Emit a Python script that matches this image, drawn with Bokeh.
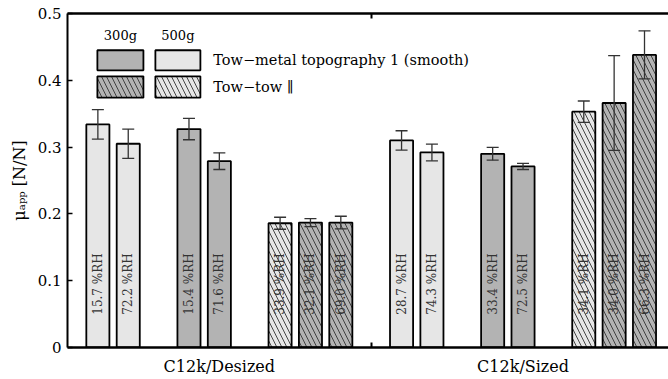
import math
from bokeh.plotting import figure
from bokeh.models import (Range1d, LinearAxis, FixedTicker, Whisker, TeeHead,
                          ColumnDataSource, Label)
from bokeh.core.properties import value
from bokeh.embed import file_html
from bokeh.resources import INLINE

# ---------------- data ----------------
groups = ["C12k/Desized", "C12k/Sized"]
bar_group = [0, 0, 0, 0, 0, 0, 0, 1, 1, 1, 1, 1, 1, 1]
# subgroup id: (metal 500g), (metal 300g), (tow-tow) per group
bar_subgroup = [0, 0, 1, 1, 2, 2, 2, 3, 3, 4, 4, 5, 5, 5]
bar_load = ["500g", "500g", "300g", "300g", "500g", "300g", "300g",
            "500g", "500g", "300g", "300g", "500g", "300g", "300g"]
bar_contact = ["metal", "metal", "metal", "metal", "tow", "tow", "tow",
               "metal", "metal", "metal", "metal", "tow", "tow", "tow"]
mu_app = [0.334, 0.305, 0.327, 0.279, 0.186, 0.187, 0.187,
          0.310, 0.292, 0.290, 0.271, 0.353, 0.366, 0.438]
mu_err = [0.022, 0.022, 0.016, 0.0125, 0.009, 0.006, 0.0095,
          0.0145, 0.0125, 0.0095, 0.0045, 0.016, 0.071, 0.036]
rh = ["15.7", "72.2", "15.4", "71.6", "33.9", "32.1", "69.0",
      "28.7", "74.3", "33.4", "72.5", "34.1", "34.0", "66.3"]
y_ticks = [0, 0.1, 0.2, 0.3, 0.4, 0.5]
y_title = "\u03bc\u2090\u209a\u209a [N/N]"
legend_loads = ["300g", "500g"]
legend_labels = ["Tow\u2212metal topography 1 (smooth)", "Tow\u2212tow \u2225"]

# ---------------- styles ----------------
FONT = "DejaVu Serif"
fill_for = {"300g": "#b3b3b3", "500g": "#e6e6e6"}
hatch_for = {"metal": " ", "tow": "\\"}

slots = [i + s for i, s in enumerate(bar_subgroup)]
group_centers = []
for g in range(len(groups)):
    xs = [slots[i] for i in range(len(slots)) if bar_group[i] == g]
    group_centers.append((min(xs) + max(xs)) / 2)
separators = [(max(slots[i] for i in range(len(slots)) if bar_group[i] == g) +
               min(slots[i] for i in range(len(slots)) if bar_group[i] == g + 1)) / 2
              for g in range(len(groups) - 1)]

src = ColumnDataSource(dict(
    x=slots, top=mu_app,
    upper=[m + e for m, e in zip(mu_app, mu_err)],
    lower=[m - e for m, e in zip(mu_app, mu_err)],
    fill=[fill_for[l] for l in bar_load],
    hatch=[hatch_for[c] for c in bar_contact],
    label=[r + " %RH" for r in rh],
))

p = figure(width=668, height=379, x_range=Range1d(-1, 18.79), y_range=Range1d(0, 0.5),
           output_backend="svg", toolbar_location=None,
           x_axis_type=None, y_axis_type=None,
           min_border_left=67, min_border_right=0, min_border_top=13, min_border_bottom=32)
p.outline_line_color = None
p.background_fill_color = "white"

# axes
yaxis = LinearAxis(ticker=FixedTicker(ticks=y_ticks, minor_ticks=[]),
                   major_label_overrides={0: "0"},
                   major_tick_in=5, major_tick_out=0, minor_tick_in=0, minor_tick_out=0,
                   axis_line_width=2, axis_line_color="black", major_tick_line_width=1.5,
                   major_label_text_font=FONT, major_label_text_font_size="15px",
                   major_label_text_color="black", major_label_standoff=6,
                   axis_label=y_title, axis_label_text_font=FONT,
                   axis_label_text_font_size="16px", axis_label_text_font_style="normal",
                   axis_label_text_color="black", axis_label_standoff=6)
p.add_layout(yaxis, "left")

xaxis = LinearAxis(ticker=FixedTicker(ticks=group_centers, minor_ticks=separators),
                   major_label_overrides={c: g for c, g in zip(group_centers, groups)},
                   major_tick_in=0, major_tick_out=0, minor_tick_in=5, minor_tick_out=0,
                   minor_tick_line_width=2, minor_tick_line_color="black",
                   axis_line_width=2.5, axis_line_color="black",
                   major_label_text_font=FONT, major_label_text_font_size="16px",
                   major_label_text_color="black", major_label_standoff=9)
p.add_layout(xaxis, "below")

topaxis = LinearAxis(ticker=FixedTicker(ticks=separators, minor_ticks=[]),
                     major_label_overrides={s: "" for s in separators},
                     major_label_text_font_size="1px",
                     major_tick_in=5, major_tick_out=0, minor_tick_in=0, minor_tick_out=0,
                     major_tick_line_width=2, major_tick_line_color="black",
                     axis_line_width=2.5, axis_line_color="black", major_label_standoff=0)
p.add_layout(topaxis, "above")

# bars
p.vbar(x="x", top="top", width=0.76, source=src, fill_color="fill",
       line_color="black", line_width=1.8,
       hatch_pattern="hatch", hatch_color="#333333", hatch_scale=10, hatch_weight=0.9)

# error bars
wh = Whisker(source=src, base="x", upper="upper", lower="lower",
             line_color="#333333", line_width=1.3, level="annotation",
             upper_head=TeeHead(size=12, line_color="#333333", line_width=1.3),
             lower_head=TeeHead(size=12, line_color="#333333", line_width=1.3))
p.add_layout(wh)

# RH labels
p.text(x="x", y=0.095, text="label", source=src, angle=math.pi / 2,
       text_align="center", text_baseline="middle",
       text_font=value(FONT), text_font_size="12px", text_color="#333333")

# legend (drawn by hand)
leg_left = [-0.016, 1.894]
leg_right = [1.50, 3.376]
row_top = [0.445, 0.406]
row_bot = [0.415, 0.374]
for r, contact in enumerate(["metal", "tow"]):
    for c, load in enumerate(legend_loads):
        p.quad(left=leg_left[c], right=leg_right[c], top=row_top[r], bottom=row_bot[r],
               fill_color=fill_for[load], line_color="black", line_width=1.8,
               hatch_pattern=hatch_for[contact], hatch_color="#333333",
               hatch_scale=10, hatch_weight=0.9)
for c, load in enumerate(legend_loads):
    p.add_layout(Label(x=(leg_left[c] + leg_right[c]) / 2, y=0.467, text=load,
                       text_align="center", text_baseline="middle",
                       text_font=FONT, text_font_size="13px", text_color="black"))
for r, lab in enumerate(legend_labels):
    p.add_layout(Label(x=3.80, y=(row_top[r] + row_bot[r]) / 2, text=lab,
                       text_align="left", text_baseline="middle",
                       text_font=FONT, text_font_size="14.5px", text_color="black"))

open("out.html", "w").write(file_html(p, INLINE))
